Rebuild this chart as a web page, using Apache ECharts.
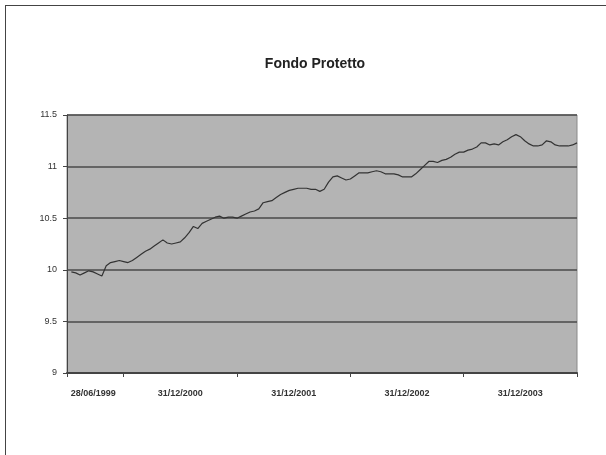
<!DOCTYPE html>
<html>
<head>
<meta charset="utf-8">
<script src="https://cdn.jsdelivr.net/npm/echarts@6/dist/echarts.min.js"></script>
<style>
html,body{margin:0;padding:0;background:#fff;}
#frame{position:absolute;left:5px;top:5px;width:700px;height:600px;border-left:1px solid #444;border-top:1px solid #444;}
#chart{position:absolute;left:0;top:0;width:606px;height:455px;}
</style>
</head>
<body>
<div id="frame"></div>
<div id="chart"></div>
<script>
const titleText = "Fondo Protetto";
const tickLabels = ["28/06/1999", "31/12/2000", "31/12/2001", "31/12/2002", "31/12/2003"];
const tickLabelIndex = [6, 26, 52, 78, 104];
const tickMarkIndex = [0, 13, 39, 65, 91, 117];
const yTicks = [9, 9.5, 10, 10.5, 11, 11.5];
const values = [
  null, 9.98, 9.97, 9.95, 9.97, 9.99, 9.98, 9.96, 9.94, 10.04,
  10.07, 10.08, 10.09, 10.08, 10.07, 10.09, 10.12, 10.15, 10.18, 10.20,
  10.23, 10.26, 10.29, 10.26, 10.25, 10.26, 10.27, 10.31, 10.36, 10.42,
  10.40, 10.45, 10.47, 10.49, 10.51, 10.52, 10.50, 10.51, 10.51, 10.50,
  10.52, 10.54, 10.56, 10.57, 10.59, 10.65, 10.66, 10.67, 10.70, 10.73,
  10.75, 10.77, 10.78, 10.79, 10.79, 10.79, 10.78, 10.78, 10.76, 10.78,
  10.85, 10.90, 10.91, 10.89, 10.87, 10.88, 10.91, 10.94, 10.94, 10.94,
  10.95, 10.96, 10.95, 10.93, 10.93, 10.93, 10.92, 10.90, 10.90, 10.90,
  10.93, 10.97, 11.01, 11.05, 11.05, 11.04, 11.06, 11.07, 11.09, 11.12,
  11.14, 11.14, 11.16, 11.17, 11.19, 11.23, 11.23, 11.21, 11.22, 11.21,
  11.24, 11.26, 11.29, 11.31, 11.29, 11.25, 11.22, 11.20, 11.20, 11.21,
  11.25, 11.24, 11.21, 11.20, 11.20, 11.20, 11.21, 11.23
];
const categories = values.map((v, i) => String(i));
const labelMap = {};
tickLabelIndex.forEach((idx, k) => { labelMap[idx] = tickLabels[k]; });

const chart = echarts.init(document.getElementById('chart'), null, {renderer: 'canvas'});
chart.setOption({
  animation: false,
  backgroundColor: 'transparent',
  title: {
    text: titleText,
    left: 310, top: 52, textAlign: 'center',
    textStyle: {fontFamily: 'Liberation Sans Narrow, Liberation Sans, Arial', fontSize: 14, fontWeight: 'bold', color: '#222'}
  },
  grid: {left: 67, right: 29, top: 115, bottom: 82, show: true, backgroundColor: '#b4b4b4', borderColor: '#8a8a8a', borderWidth: 1},
  xAxis: {
    type: 'category', data: categories, boundaryGap: false,
    axisLine: {show: true, lineStyle: {color: '#444', width: 2}},
    axisTick: {show: true, length: 4, inside: false, interval: (i) => tickMarkIndex.indexOf(i) >= 0, lineStyle: {color: '#444'}},
    axisLabel: {
      interval: (i) => labelMap[i] !== undefined,
      formatter: (v, i) => labelMap[i] || '',
      margin: 16, fontSize: 9, fontWeight: 'bold',
      fontFamily: 'Liberation Sans Narrow, Liberation Sans, Arial', color: '#333'
    },
    splitLine: {show: false}
  },
  yAxis: {
    type: 'value', min: 9, max: 11.5, interval: 0.5,
    axisLine: {show: true, lineStyle: {color: '#444', width: 1}},
    axisTick: {show: true, length: 4, lineStyle: {color: '#444'}},
    axisLabel: {
      formatter: (v) => String(Math.round(v * 10) / 10),
      fontSize: 9, margin: 10, color: '#333',
      fontFamily: 'Liberation Sans Narrow, Liberation Sans, Arial'
    },
    splitLine: {show: true, lineStyle: {color: '#4a4a4a', width: 1.5}}
  },
  series: [{
    type: 'line', data: values, showSymbol: false, smooth: false,
    lineStyle: {color: '#333', width: 1.2}
  }]
});
</script>
</body>
</html>
